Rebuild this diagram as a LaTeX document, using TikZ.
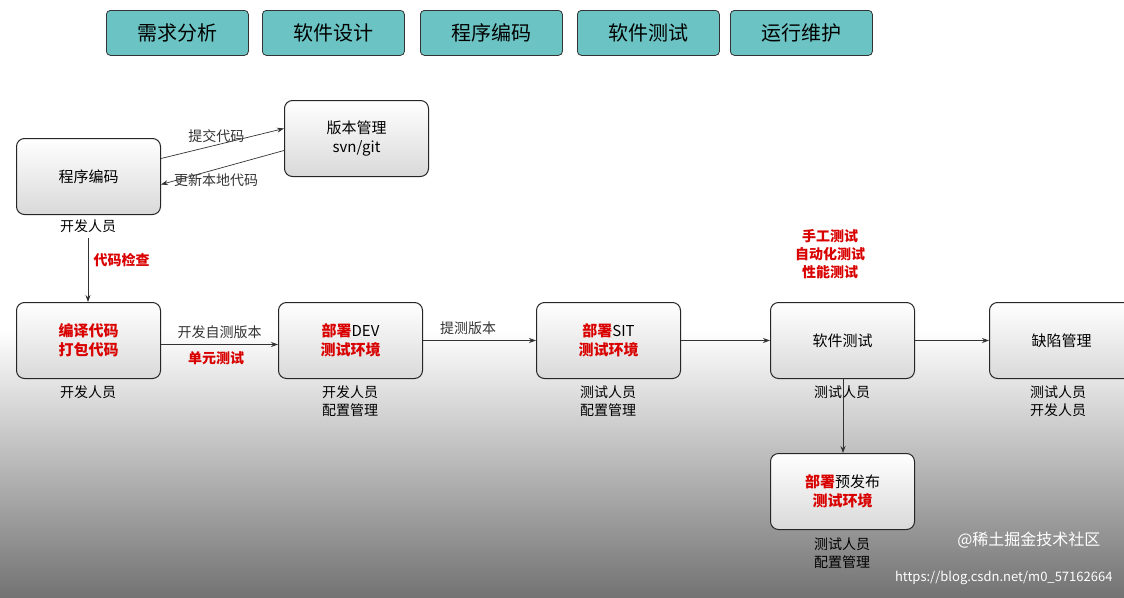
\documentclass[tikz,border=0pt]{standalone}
\usepackage{fontspec}
\setmainfont{Noto Sans CJK SC}
\usetikzlibrary{arrows.meta}
\definecolor{phasecol}{HTML}{6CC3C3}
\begin{document}
\begin{tikzpicture}[x=1pt,y=-1pt,
 phase/.style={draw=black!80,fill=phasecol,rounded corners=4pt,minimum width=142pt,minimum height=45pt,font=\fontsize{20}{22}\selectfont,anchor=north west,line width=0.8pt},
 box/.style={draw=black!85,rounded corners=8pt,top color=white,bottom color=black!15,minimum width=144pt,minimum height=76pt,anchor=north west,line width=1pt,font=\fontsize{15}{19}\selectfont,align=center},
 lbl/.style={font=\fontsize{14}{18}\selectfont,align=center,anchor=north},
 red/.style={font=\bfseries\fontsize{14}{18}\selectfont,text=red!85!black,align=center},
 arr/.style={-{Stealth[length=7pt,width=5pt]},black!80,line width=0.7pt}]
\shade[top color=white,bottom color=white] (0,0) rectangle (1124,330);
\shade[top color=white,bottom color=black!55] (0,330) rectangle (1124,597);
\useasboundingbox (0,0) rectangle (1124,597);
\node[phase] (p1) at (106,10) {需求分析};
\node[phase] (p2) at (262,10) {软件设计};
\node[phase] (p3) at (420,10) {程序编码};
\node[phase] (p4) at (577,10) {软件测试};
\node[phase] (p5) at (730,10) {运行维护};
\node[box] (code) at (16,138) {程序编码};
\node[box] (svn) at (284,100) {版本管理\\svn/git};
\node[box] (build) at (16,302) {\textbf{\textcolor{red!85!black}{编译代码}}\\\textbf{\textcolor{red!85!black}{打包代码}}};
\node[box] (dev) at (278,302) {\textbf{\textcolor{red!85!black}{部署}}DEV\\\textbf{\textcolor{red!85!black}{测试环境}}};
\node[box] (sit) at (536,302) {\textbf{\textcolor{red!85!black}{部署}}SIT\\\textbf{\textcolor{red!85!black}{测试环境}}};
\node[box] (test) at (770,302) {软件测试};
\node[box] (bug) at (989,302) {缺陷管理};
\node[box] (pre) at (770,453) {\textbf{\textcolor{red!85!black}{部署}}预发布\\\textbf{\textcolor{red!85!black}{测试环境}}};
\node[lbl] (l1) at (88,216) {开发人员};
\node[lbl] (l2) at (88,382) {开发人员};
\node[lbl] (l3) at (350,382) {开发人员\\配置管理};
\node[lbl] (l4) at (608,382) {测试人员\\配置管理};
\node[lbl] (l5) at (842,382) {测试人员};
\node[lbl] (l6) at (1058,382) {测试人员\\开发人员};
\node[lbl] (l7) at (842,534) {测试人员\\配置管理};
\node[red,anchor=north] (m) at (830,226) {手工测试\\自动化测试\\性能测试};
\coordinate (c1) at (88,238);
\draw[arr] (c1) -- (build.north -| c1);
\node[red,anchor=west] (chk) at (90,260) {代码检查};
\draw[arr] ([yshift=18pt]code.east) -- node[above=-1pt,font=\fontsize{14}{18}\selectfont,pos=0.45]{提交代码} ([yshift=10pt]svn.west);
\draw[arr] ([yshift=-12pt]svn.west) -- node[below=-1pt,font=\fontsize{14}{18}\selectfont,pos=0.6,xshift=6pt]{更新本地代码} ([yshift=-8pt]code.east);
\draw[arr] ([yshift=-4pt]build.east) -- node[above=2pt,font=\fontsize{14}{18}\selectfont]{开发自测版本} ([yshift=-4pt]dev.west);
\node[red] (unit) at (216,358) {单元测试};
\draw[arr] (dev.east) -- node[above=2pt,font=\fontsize{14}{18}\selectfont,pos=0.4]{提测版本} (sit.west);
\draw[arr] (sit.east) -- (test.west);
\draw[arr] (test.east) -- (bug.west);
\draw[arr] (843,378) -- (pre.north -| 843,0);
\node[anchor=east,text=white,font=\fontsize{16}{18}\selectfont] (wm1) at (1104,540) {@稀土掘金技术社区};
\node[anchor=east,text=white,font=\fontsize{13}{15}\selectfont] (wm2) at (1116,578) {https://blog.csdn.net/m0\_57162664};
\end{tikzpicture}
\end{document}
